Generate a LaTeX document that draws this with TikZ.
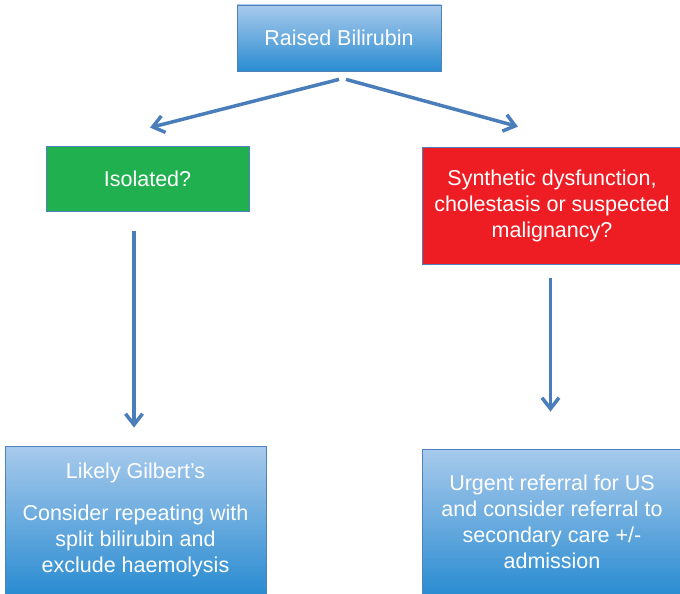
\documentclass[tikz,border=0pt]{standalone}
\usepackage{fontspec}
\setmainfont{Liberation Sans}
\usetikzlibrary{arrows.meta}
\definecolor{arrowblue}{HTML}{4A7EBB}
\definecolor{edgeblue}{HTML}{4F81BD}
\definecolor{gradtop}{HTML}{A8CAEC}
\definecolor{gradbot}{HTML}{2A8CD1}
\definecolor{boxgreen}{HTML}{21B04F}
\definecolor{boxred}{HTML}{EE1D24}
\begin{document}
\begin{tikzpicture}[x=1pt,y=-1pt,
  box/.style={draw=edgeblue, line width=0.8pt, text=white, align=center, inner sep=0pt,
    font=\fontsize{21.5}{26}\selectfont},
  bluebox/.style={box, top color=gradtop, bottom color=gradbot},
  conn/.style={draw=arrowblue, line width=3.5pt, -{Straight Barb[length=11pt,width=17pt]}}
]
\useasboundingbox (0,0) rectangle (680,594);
\clip (0,0) rectangle (680,594);
\fill[white] (0,0) rectangle (680,594);

\node[bluebox, minimum width=204pt, minimum height=66pt] (top) at (339,38) {Raised Bilirubin};
\node[box, fill=boxgreen, minimum width=203pt, minimum height=65pt] (iso) at (147.5,178.5) {Isolated?};
\node[box, fill=boxred, minimum width=259pt, minimum height=117pt] (red) at (552,205.5)
  {Synthetic dysfunction,\\cholestasis or suspected\\malignancy?};
\node[bluebox, minimum width=261pt, minimum height=148pt] (gil) at (135.5,520)
  {Likely Gilbert’s\\[16pt]Consider repeating with\\split bilirubin and\\exclude haemolysis};
\node[bluebox, minimum width=260pt, minimum height=146pt] (urg) at (552,522)
  {Urgent referral for US\\and consider referral to\\secondary care +/-\\admission};

\draw[conn] ([yshift=-8pt]top.south) -- ([shift={(2.5pt,18pt)}]iso.north);
\draw[conn] ([shift={(7pt,-8pt)}]top.south) -- ([shift={(-34pt,20pt)}]red.north);
\draw[conn] ([shift={(-13.5pt,-20pt)}]iso.south) -- ([shift={(-1.5pt,18pt)}]gil.north);
\draw[conn] ([shift={(-1.5pt,-14pt)}]red.south) -- ([shift={(-1.5pt,37pt)}]urg.north);
\end{tikzpicture}
\end{document}
